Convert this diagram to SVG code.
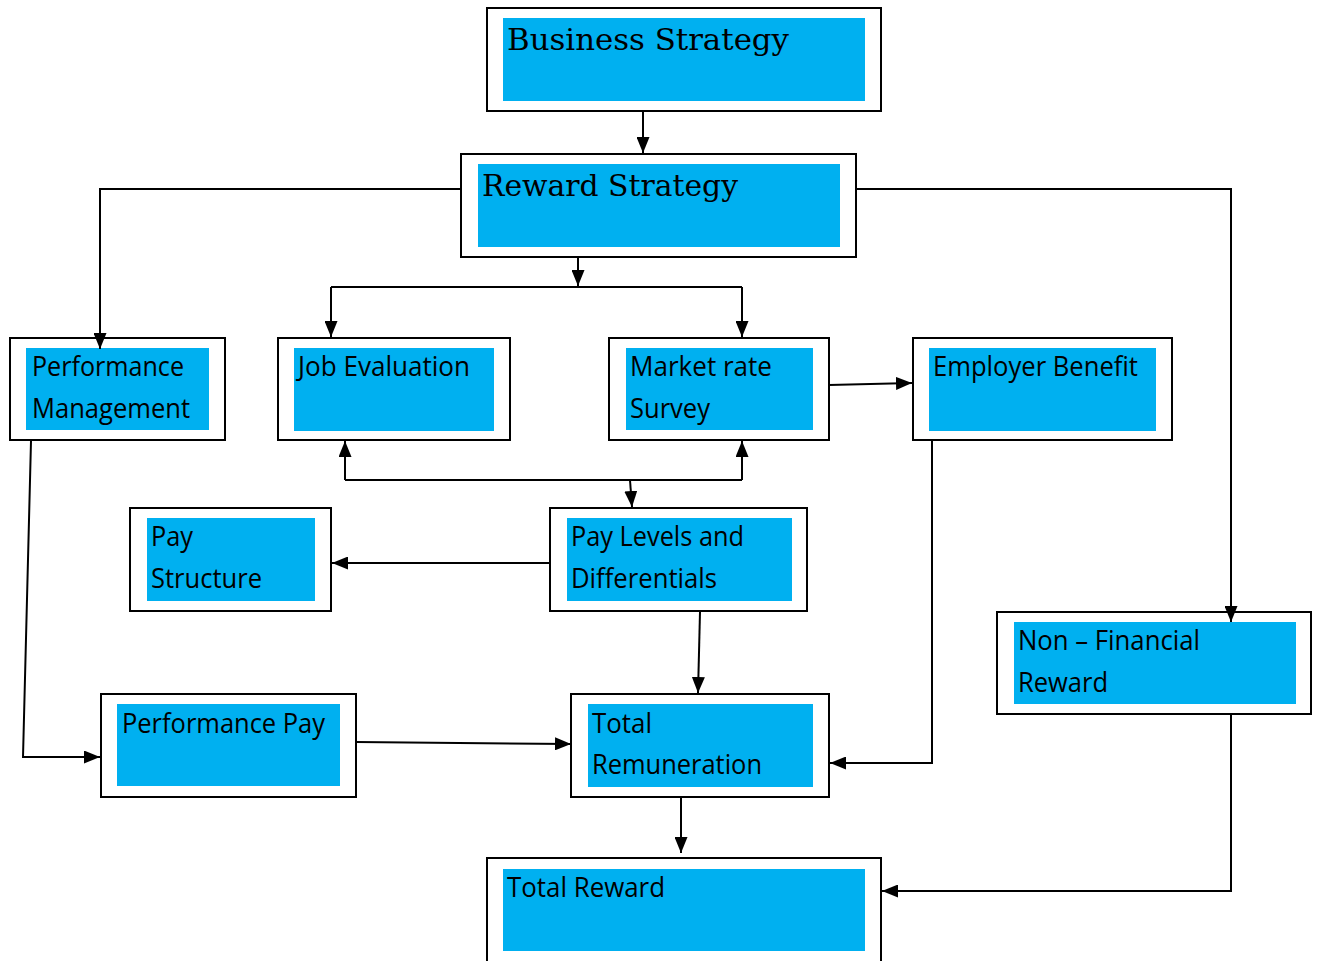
<svg xmlns="http://www.w3.org/2000/svg" width="1321" height="961" viewBox="0 0 1321 961">
<style>
.outer{fill:#fff;stroke:#000;stroke-width:2}
.inner{fill:#00b0f0;stroke:none}
.t{font-family:"Open Sans","Liberation Sans",sans-serif;font-size:27px;fill:#000}
.s{font-family:"DejaVu Serif","Liberation Serif",serif;font-size:30px;fill:#000}
.c{fill:none;stroke:#000;stroke-width:2}
</style>
<defs>
<marker id="ah" markerWidth="16" markerHeight="13" refX="16" refY="6.5" orient="auto" markerUnits="userSpaceOnUse">
<path d="M0,0 L16,6.5 L0,13 Z" fill="#000"/>
</marker>
</defs>
<rect width="1321" height="961" fill="#fff"/>
<g id="business-strategy">
<rect class="outer" x="487" y="8" width="394" height="103"/>
<rect class="inner" x="503" y="18" width="362" height="83"/>
<text class="s" x="507" y="50" textLength="282" lengthAdjust="spacingAndGlyphs">Business Strategy</text>
</g>
<g id="reward-strategy">
<rect class="outer" x="461" y="154" width="395" height="103"/>
<rect class="inner" x="478" y="164" width="362" height="83"/>
<text class="s" x="482" y="196" textLength="256" lengthAdjust="spacingAndGlyphs">Reward Strategy</text>
</g>
<g id="performance-management">
<rect class="outer" x="10" y="338" width="215" height="102"/>
<rect class="inner" x="26" y="348" width="183" height="82"/>
<text class="t" x="32" y="376" textLength="152" lengthAdjust="spacingAndGlyphs">Performance</text>
<text class="t" x="32" y="418" textLength="158" lengthAdjust="spacingAndGlyphs">Management</text>
</g>
<g id="job-evaluation">
<rect class="outer" x="278" y="338" width="232" height="102"/>
<rect class="inner" x="294" y="348" width="200" height="83"/>
<text class="t" x="298" y="376" textLength="172" lengthAdjust="spacingAndGlyphs">Job Evaluation</text>
</g>
<g id="market-rate-survey">
<rect class="outer" x="609" y="338" width="220" height="102"/>
<rect class="inner" x="626" y="348" width="187" height="82"/>
<text class="t" x="630" y="376" textLength="142" lengthAdjust="spacingAndGlyphs">Market rate</text>
<text class="t" x="630" y="418" textLength="80" lengthAdjust="spacingAndGlyphs">Survey</text>
</g>
<g id="employer-benefit">
<rect class="outer" x="913" y="338" width="259" height="102"/>
<rect class="inner" x="929" y="348" width="227" height="83"/>
<text class="t" x="933" y="376" textLength="205" lengthAdjust="spacingAndGlyphs">Employer Benefit</text>
</g>
<g id="pay-structure">
<rect class="outer" x="130" y="508" width="201" height="103"/>
<rect class="inner" x="147" y="518" width="168" height="83"/>
<text class="t" x="151" y="546" textLength="42" lengthAdjust="spacingAndGlyphs">Pay</text>
<text class="t" x="151" y="588" textLength="111" lengthAdjust="spacingAndGlyphs">Structure</text>
</g>
<g id="pay-levels">
<rect class="outer" x="550" y="508" width="257" height="103"/>
<rect class="inner" x="567" y="518" width="225" height="83"/>
<text class="t" x="571" y="546" textLength="173" lengthAdjust="spacingAndGlyphs">Pay Levels and</text>
<text class="t" x="571" y="588" textLength="146" lengthAdjust="spacingAndGlyphs">Differentials</text>
</g>
<g id="non-financial-reward">
<rect class="outer" x="997" y="612" width="314" height="102"/>
<rect class="inner" x="1014" y="622" width="282" height="82"/>
<text class="t" x="1018" y="650" textLength="182" lengthAdjust="spacingAndGlyphs">Non – Financial</text>
<text class="t" x="1018" y="692" textLength="90" lengthAdjust="spacingAndGlyphs">Reward</text>
</g>
<g id="performance-pay">
<rect class="outer" x="101" y="694" width="255" height="103"/>
<rect class="inner" x="117" y="704" width="223" height="82"/>
<text class="t" x="122" y="733" textLength="203" lengthAdjust="spacingAndGlyphs">Performance Pay</text>
</g>
<g id="total-remuneration">
<rect class="outer" x="571" y="694" width="258" height="103"/>
<rect class="inner" x="588" y="704" width="225" height="83"/>
<text class="t" x="592" y="733" textLength="60" lengthAdjust="spacingAndGlyphs">Total</text>
<text class="t" x="592" y="774" textLength="170" lengthAdjust="spacingAndGlyphs">Remuneration</text>
</g>
<g id="total-reward">
<rect class="outer" x="487" y="858" width="394" height="110"/>
<rect class="inner" x="503" y="869" width="362" height="82"/>
<text class="t" x="507" y="897" textLength="158" lengthAdjust="spacingAndGlyphs">Total Reward</text>
</g>
<g id="connectors">
<path class="c" d="M643,111 L643,153" marker-end="url(#ah)"/>
<path class="c" d="M461,189 L100,189 L100,349" marker-end="url(#ah)"/>
<path class="c" d="M856,189 L1231,189 L1231,622" marker-end="url(#ah)"/>
<path class="c" d="M578,257 L578,286" marker-end="url(#ah)"/>
<path class="c" d="M331,287 L742,287"/>
<path class="c" d="M331,287 L331,337" marker-end="url(#ah)"/>
<path class="c" d="M742,287 L742,337" marker-end="url(#ah)"/>
<path class="c" d="M829,385 L912,383" marker-end="url(#ah)"/>
<path class="c" d="M345,480 L742,480"/>
<path class="c" d="M345,480 L345,441" marker-end="url(#ah)"/>
<path class="c" d="M742,480 L742,441" marker-end="url(#ah)"/>
<path class="c" d="M630,480 L632,507" marker-end="url(#ah)"/>
<path class="c" d="M550,563 L332,563" marker-end="url(#ah)"/>
<path class="c" d="M700,612 L698,693" marker-end="url(#ah)"/>
<path class="c" d="M31,441 L23,757 L100,757" marker-end="url(#ah)"/>
<path class="c" d="M356,742 L571,744" marker-end="url(#ah)"/>
<path class="c" d="M932,441 L932,763 L830,763" marker-end="url(#ah)"/>
<path class="c" d="M681,797 L681,853" marker-end="url(#ah)"/>
<path class="c" d="M1231,714 L1231,891 L882,891" marker-end="url(#ah)"/>
</g>
</svg>
